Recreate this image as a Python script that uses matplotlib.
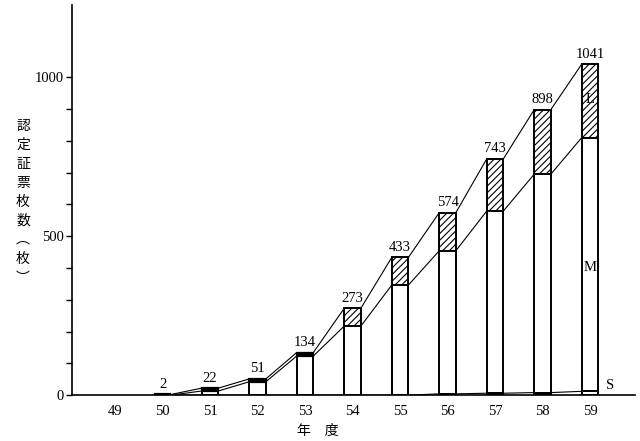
import numpy as np
import matplotlib.pyplot as plt

# certified certificates per fiscal year, split by size class
years = [49, 50, 51, 52, 53, 54, 55, 56, 57, 58, 59]
totals = [0, 2, 22, 51, 134, 273, 433, 574, 743, 898, 1041]
size_s = [0, 0, 0, 0, 0, 0, 0, 4, 6, 8, 12]
size_m = [0, 0, 13, 42, 123, 217, 346, 450, 573, 687, 798]
size_l = [t - s - m for t, s, m in zip(totals, size_s, size_m)]

serif = "Liberation Serif"
cjk = "Noto Sans CJK JP"
plt.rcParams["hatch.linewidth"] = 0.8

fig = plt.figure(figsize=(6.4, 4.41), dpi=100)
ax = fig.add_axes([0.1125, 0.104, 0.88, 0.884])

x = np.array(years, dtype=float)
w = 0.35
s = np.array(size_s)
m = np.array(size_m)
l = np.array(size_l)
shown = np.array(totals) > 0

ax.bar(x[shown], s[shown], w, color="white", edgecolor="black", linewidth=1.4)
ax.bar(x[shown], m[shown], w, bottom=s[shown], color="white",
       edgecolor="black", linewidth=1.4)

# thin L segments print as dark bands, taller ones as hatched blocks
thin = shown & (l < 15)
wide = shown & (l >= 15)
ax.bar(x[wide], l[wide], w, bottom=(s + m)[wide], color="white",
       edgecolor="black", linewidth=1.4, hatch="/////")
ax.bar(x[thin], l[thin], w, bottom=(s + m)[thin], color="black",
       edgecolor="black", linewidth=[3.0 if v < 5 else 1.6 for v in l[thin]])

# lines joining the corners of neighbouring bars
def corner_line(levels):
    xs, ys = [], []
    for xi, yi in zip(x[shown], np.array(levels)[shown]):
        xs += [xi - w / 2, xi + w / 2]
        ys += [yi, yi]
    ax.plot(xs, ys, color="black", linewidth=0.8)

corner_line(totals)
corner_line(s + m)
corner_line(s)

for xi, t in zip(x[shown], np.array(totals)[shown]):
    ax.annotate(str(t), (xi, t), xytext=(0, 2.5), textcoords="offset points",
                ha="center", va="bottom", fontsize=10.5, family=serif)

ax.text(59, 930, "L", ha="center", va="center", fontsize=10.5, family=serif)
ax.text(59, 400, "M", ha="center", va="center", fontsize=10.5, family=serif)
ax.text(59.42, 30, "S", ha="center", va="center", fontsize=10.5, family=serif)

ax.set_xlim(48.095, 59.95)
ax.set_ylim(0, 1226)
ax.spines["top"].set_visible(False)
ax.spines["right"].set_visible(False)
ax.spines["left"].set_linewidth(1.2)
ax.spines["bottom"].set_linewidth(1.2)

ax.set_xticks(years)
ax.set_xticklabels([str(y) for y in years], family=serif, fontsize=10.5)
ax.tick_params(axis="x", length=0, pad=7)
ax.set_yticks([0, 500, 1000])
ax.set_yticklabels(["0", "500", "1000"], family=serif, fontsize=10.5)
ax.set_yticks(range(0, 1001, 100), minor=True)
ax.tick_params(axis="y", which="both", direction="out", length=4, width=1, pad=2)

fig.text(0.036, 0.542, "\n".join("認定証票枚数︵枚︶"), family=cjk, fontsize=10,
         ha="center", va="center", linespacing=1.45)
fig.text(0.497, 0.022, "年　度", family=cjk, fontsize=10, ha="center",
         va="center")

fig.savefig("out.png", dpi=100)
